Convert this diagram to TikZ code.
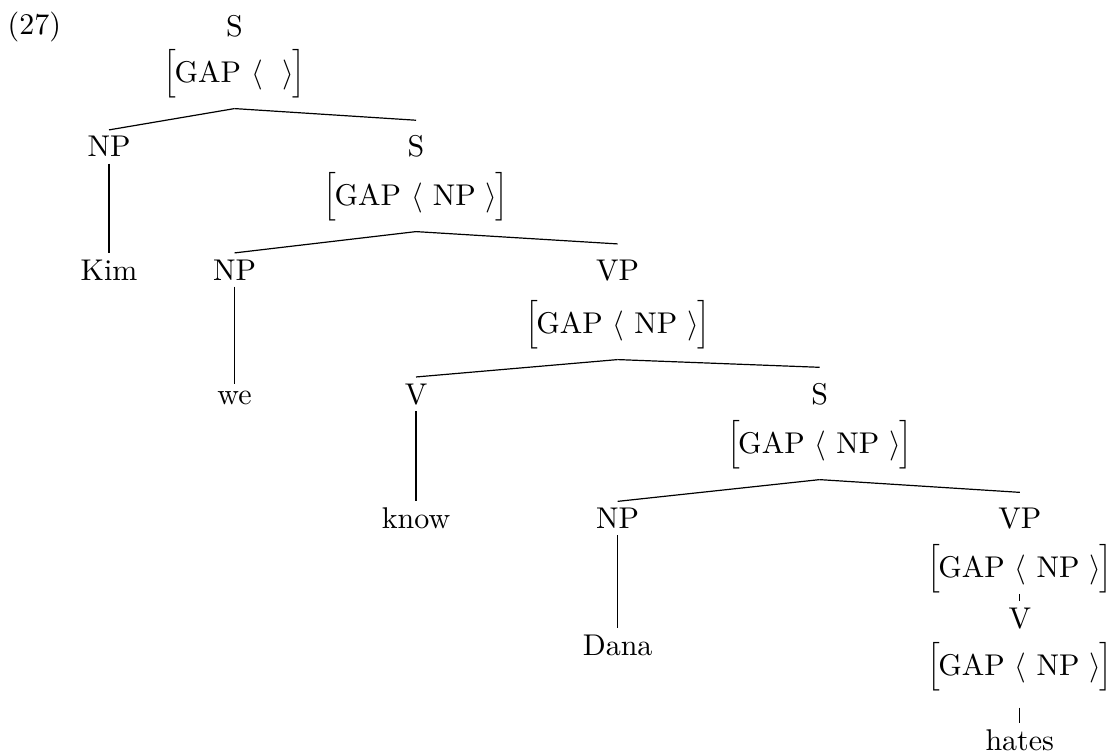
\documentclass[tikz,border=0pt]{standalone}
\usepackage{amsmath}

\newcommand{\avmopen}{\raisebox{0.6pt}{\scalebox{0.9}{$\Bigl[$}}\mkern-1mu}
\newcommand{\avmclose}{\mkern-1mu\raisebox{0.6pt}{\scalebox{0.9}{$\Bigr]$}}}
\newcommand{\gapfeat}[1]{$\avmopen\text{GAP}\ \langle\ #1\ \rangle\avmclose$}

\begin{document}
\begin{tikzpicture}[
  cat/.style={anchor=base, inner sep=2pt},
  phr/.style={cat, inner ysep=5pt},
  feat/.style={anchor=base, inner xsep=0pt, inner ysep=3.4pt},
  word/.style={anchor=base, inner sep=2pt}
]
  \useasboundingbox (0,0) rectangle (12.99,-8.845);
  \node[anchor=base west, inner sep=0pt] (exnum) at (0.082,-0.41) {(27)};

  % top S
  \node[cat] (s0) at (2.747,-0.422) {S};
  \node[feat] (s0f) at (2.747,-0.961) {\gapfeat{}};

  \node[cat] (np1) at (1.277,-1.839) {NP};
  \node[phr] (s1) at (4.873,-1.839) {S};
  \node[feat] (s1f) at (4.873,-2.402) {\gapfeat{\text{NP}}};
  \node[word] (kim) at (1.277,-3.280) {Kim};

  \node[cat] (np2) at (2.747,-3.280) {NP};
  \node[phr] (vp2) at (7.235,-3.280) {VP};
  \node[feat] (vp2f) at (7.235,-3.901) {\gapfeat{\text{NP}}};
  \node[word] (we) at (2.747,-4.733) {we};

  \node[cat] (v3) at (4.873,-4.733) {V};
  \node[phr] (s3) at (9.600,-4.733) {S};
  \node[feat] (s3f) at (9.600,-5.307) {\gapfeat{\text{NP}}};
  \node[word] (know) at (4.873,-6.19) {know};

  \node[cat] (np4) at (7.235,-6.19) {NP};
  \node[phr] (vp4) at (11.945,-6.19) {VP};
  \node[feat] (vp4f) at (11.945,-6.760) {\gapfeat{\text{NP}}};
  \node[word] (dana) at (7.235,-7.673) {Dana};

  % unary chain down to the verb
  \node[cat] (v5) at (11.945,-7.357) {V};
  \node[feat] (v5f) at (11.945,-7.908) {\gapfeat{\text{NP}}};
  \node[word] (hates) at (11.945,-8.786) {hates};

  \draw (s0f.south) -- (np1.north);
  \draw (s0f.south) -- (s1.north);
  \draw (np1.south) -- (kim.north);
  \draw (s1f.south) -- (np2.north);
  \draw (s1f.south) -- (vp2.north);
  \draw (np2.south) -- (we.north);
  \draw (vp2f.south) -- (v3.north);
  \draw (vp2f.south) -- (s3.north);
  \draw (v3.south) -- (know.north);
  \draw (s3f.south) -- (np4.north);
  \draw (s3f.south) -- (vp4.north);
  \draw (np4.south) -- (dana.north);
  \draw ([yshift=3.3pt]vp4f.south) -- (v5.north);
  \draw[shorten <=2pt] (v5f.south) -- (hates.north);
\end{tikzpicture}
\end{document}
